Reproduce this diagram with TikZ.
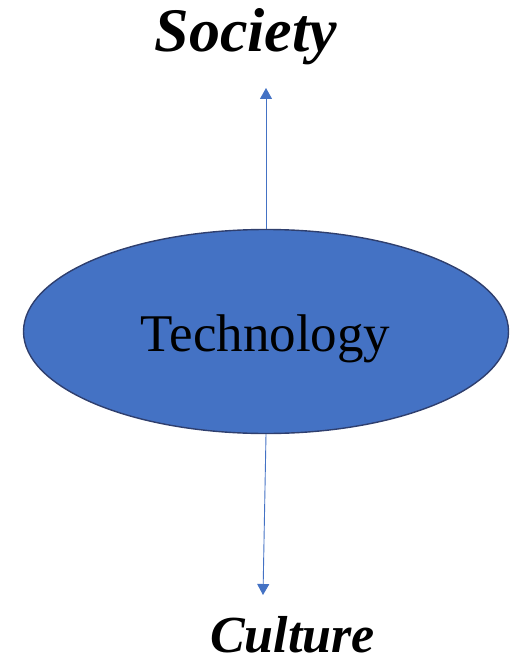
\documentclass[tikz,border=0pt]{standalone}
\usepackage{fontspec}
\setmainfont{Liberation Serif}
\usepackage{tikz}
\usetikzlibrary{arrows.meta}
\usetikzlibrary{shapes.geometric}
\definecolor{techblue}{HTML}{4472C4}
\definecolor{techline}{HTML}{2F3F6E}

\begin{document}
\begin{tikzpicture}[x=1pt, y=-1pt,
    blob/.style={ellipse, draw=techline, line width=1.4pt, fill=techblue,
        minimum width=485pt, minimum height=204pt, inner sep=0pt},
    link/.style={draw=techblue, line width=0.9pt, -{Triangle[width=12pt,length=11pt]}},
    word/.style={anchor=base, inner sep=0pt}]
    \useasboundingbox (0, 0) rectangle (518, 658);
    \node[blob] (tech) at (266, 331.5) {};
    \node[word, font=\fontsize{53}{53}\selectfont] (techtext) at (265.5, 351) {Technology};
    \node[word, font=\fontsize{62}{62}\selectfont\bfseries\itshape] (society) at (246, 52) {Society};
    \node[word, font=\fontsize{52}{52}\selectfont\bfseries\itshape] (culture) at (292.5, 652) {Culture};
    \coordinate (up) at (266, 88);
    \coordinate (down) at (263, 595);
    \draw[link] (tech.north) -- (up);
    \draw[link] (tech.south) -- (down);
\end{tikzpicture}
\end{document}
